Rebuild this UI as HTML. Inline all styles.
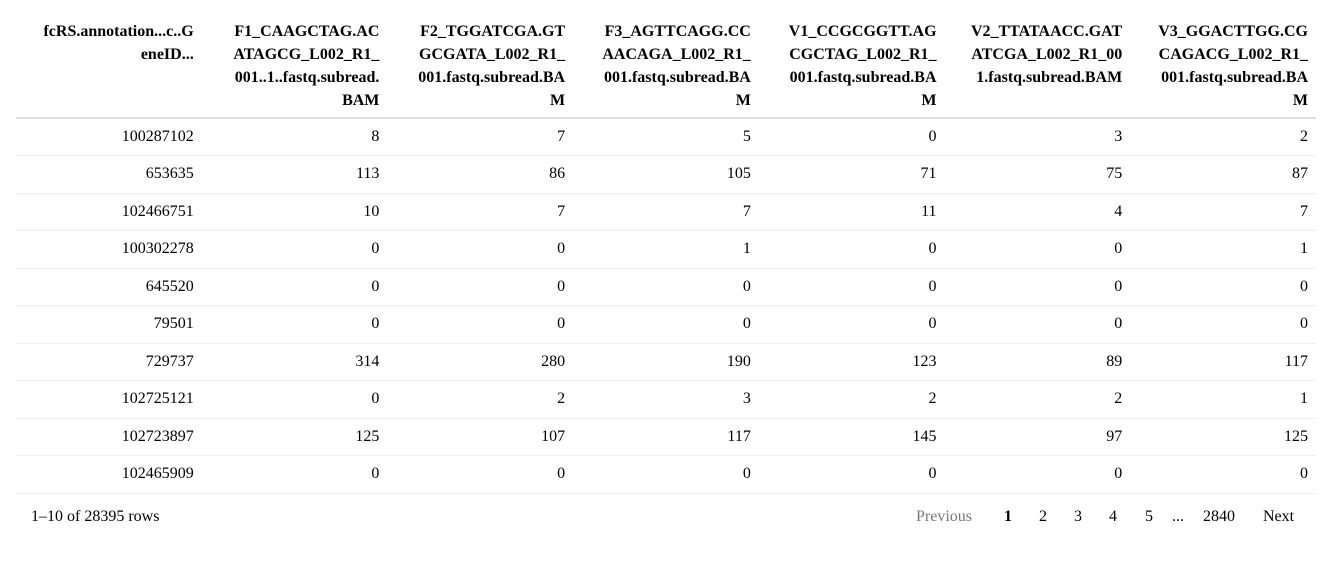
<!DOCTYPE html>
<html><head><meta charset="utf-8"><style>
body{margin:0;background:#fff;font-family:"Liberation Serif",serif;font-size:16px;color:#000;width:1331px;height:567px;overflow:hidden;position:relative}
table{position:absolute;left:16px;top:0;width:1300px;border-collapse:collapse;table-layout:fixed}
th,td{text-align:right;padding:0 8px;width:185.7px;box-sizing:border-box}
th{font-weight:bold;line-height:23px;vertical-align:top;padding-top:20px;padding-bottom:5px;height:116px;border-bottom:2px solid #ddd}
td{height:37.5px;border-bottom:1px solid #eee;line-height:20px}
.f{position:absolute;top:507px;line-height:20px}
.g{color:#777}
</style></head><body>
<table>
<tr><th>fcRS.annotation...c..G<br>eneID...</th><th>F1_CAAGCTAG.AC<br>ATAGCG_L002_R1_<br>001..1..fastq.subread.<br>BAM</th><th>F2_TGGATCGA.GT<br>GCGATA_L002_R1_<br>001.fastq.subread.BA<br>M</th><th>F3_AGTTCAGG.CC<br>AACAGA_L002_R1_<br>001.fastq.subread.BA<br>M</th><th>V1_CCGCGGTT.AG<br>CGCTAG_L002_R1_<br>001.fastq.subread.BA<br>M</th><th>V2_TTATAACC.GAT<br>ATCGA_L002_R1_00<br>1.fastq.subread.BAM</th><th>V3_GGACTTGG.CG<br>CAGACG_L002_R1_<br>001.fastq.subread.BA<br>M</th></tr>
<tr><td>100287102</td><td>8</td><td>7</td><td>5</td><td>0</td><td>3</td><td>2</td></tr>
<tr><td>653635</td><td>113</td><td>86</td><td>105</td><td>71</td><td>75</td><td>87</td></tr>
<tr><td>102466751</td><td>10</td><td>7</td><td>7</td><td>11</td><td>4</td><td>7</td></tr>
<tr><td>100302278</td><td>0</td><td>0</td><td>1</td><td>0</td><td>0</td><td>1</td></tr>
<tr><td>645520</td><td>0</td><td>0</td><td>0</td><td>0</td><td>0</td><td>0</td></tr>
<tr><td>79501</td><td>0</td><td>0</td><td>0</td><td>0</td><td>0</td><td>0</td></tr>
<tr><td>729737</td><td>314</td><td>280</td><td>190</td><td>123</td><td>89</td><td>117</td></tr>
<tr><td>102725121</td><td>0</td><td>2</td><td>3</td><td>2</td><td>2</td><td>1</td></tr>
<tr><td>102723897</td><td>125</td><td>107</td><td>117</td><td>145</td><td>97</td><td>125</td></tr>
<tr><td>102465909</td><td>0</td><td>0</td><td>0</td><td>0</td><td>0</td><td>0</td></tr>
</table>
<div class="f" style="left:31px">1–10 of 28395 rows</div>
<div class="f g" style="left:916px">Previous</div>
<div class="f" style="left:1004px;font-weight:bold">1</div>
<div class="f" style="left:1039px">2</div>
<div class="f" style="left:1074px">3</div>
<div class="f" style="left:1109px">4</div>
<div class="f" style="left:1145px">5</div>
<div class="f" style="left:1172px">...</div>
<div class="f" style="left:1203px">2840</div>
<div class="f" style="left:1263px">Next</div>
</body></html>
